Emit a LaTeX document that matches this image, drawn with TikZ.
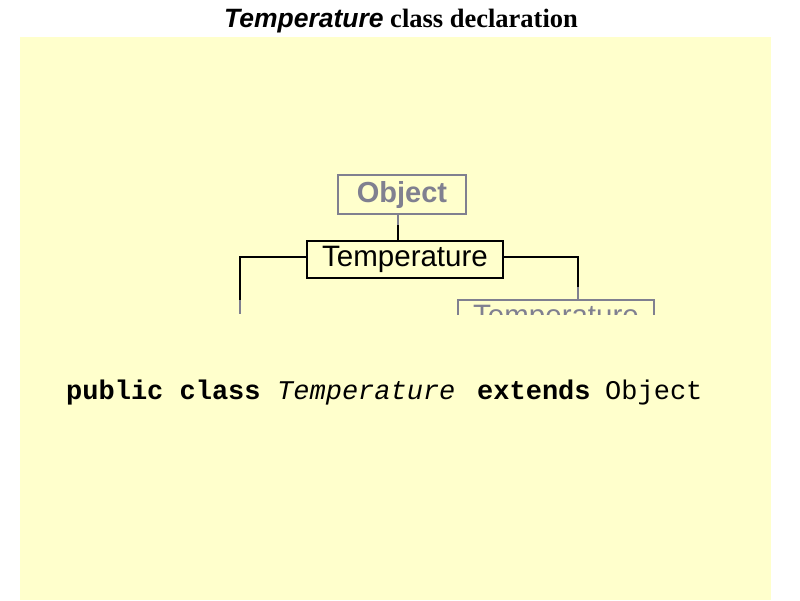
\documentclass[tikz,border=0pt]{standalone}
\usepackage{fontspec}
\newfontfamily\arialfont{Liberation Sans}
\newfontfamily\timesfont{Liberation Serif}
\newfontfamily\courierfont{Liberation Mono}
\definecolor{panel}{HTML}{FFFFCC}
\definecolor{dimgray}{RGB}{128,128,144}
\tikzset{
  classbox/.style={draw=black, line width=2.6pt, minimum width=196pt, minimum height=37pt, inner sep=0pt,
    font=\arialfont\fontsize{29.5}{32}\selectfont},
  dimbox/.style={draw=dimgray, line width=2pt, text=dimgray, inner sep=0pt},
  link/.style={draw=black, line width=2.8pt},
  dimlink/.style={draw=dimgray, line width=2pt},
  code/.style={anchor=base west, inner sep=0pt, font=\courierfont\fontsize{27}{30}\selectfont},
}
\begin{document}
\begin{tikzpicture}[x=1pt, y=-1pt]
\useasboundingbox (0,0) rectangle (800,600);
\fill[white] (0,0) rectangle (800,600);
\fill[panel] (20,37) rectangle (771,600);

% title
\node[anchor=base, inner sep=0pt] (title) at (401,27)
  {{\arialfont\bfseries\itshape\fontsize{26.5}{30}\selectfont Temperature}{\timesfont\bfseries\fontsize{26.5}{30}\selectfont\ class declaration}};

% hierarchy
\node[dimbox, minimum width=128pt, minimum height=39pt, font=\arialfont\bfseries\fontsize{29}{32}\selectfont] (obj) at (402,194.5) {Object};
\node[classbox] (temp) at (405,259.5) {Temperature};

\coordinate (up) at (398,225);
\coordinate (lc) at (240,257);
\coordinate (lm) at (240,300);
\coordinate (le) at (240,314);
\coordinate (rc) at (578,257);
\coordinate (rm) at (578,287);

\begin{scope}
\clip (0,0) rectangle (800,314);
\node[dimbox, minimum width=196pt, minimum height=37pt, font=\arialfont\fontsize{29.5}{32}\selectfont] (sub) at (556,318.5) {Temperature};
\draw[dimlink] (lm) -- (le);
\end{scope}

\draw[dimlink] (obj.south -| up) -- (up);
\draw[link] (up) -- (temp.north -| up);
\draw[link] (temp.west |- lc) -- (lc) -- (lm);
\draw[link] (temp.east |- rc) -- (rc) -- (rm);
\draw[dimlink] (rm) -- (sub.north -| rm);

% code line
\node[code] (c1) at (66,399) {\bfseries public class};
\node[code] (c2) at (277,399) {\itshape Temperature};
\node[code] (c3) at (477,399) {\bfseries extends};
\node[code] (c4) at (605,399) {Object};
\end{tikzpicture}
\end{document}
